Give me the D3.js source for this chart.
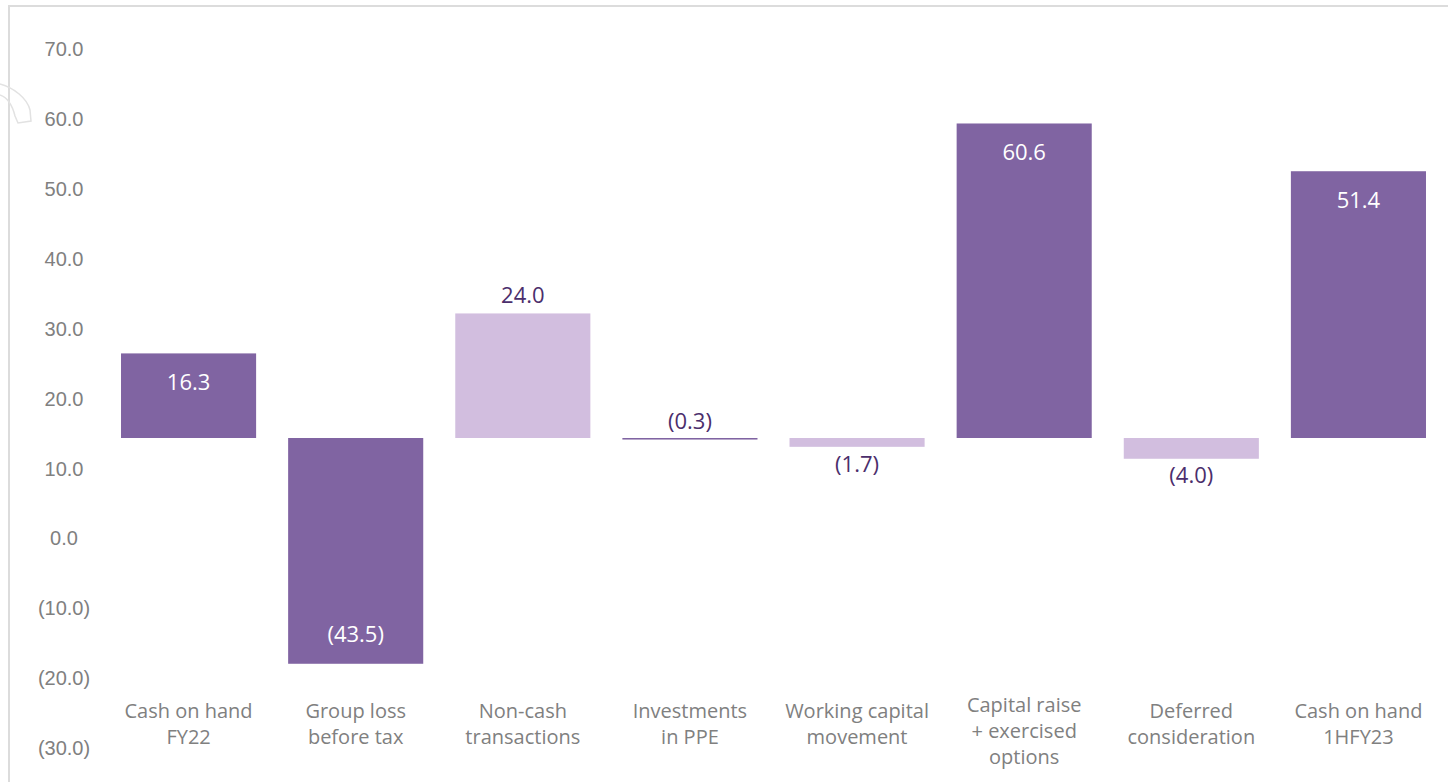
<!DOCTYPE html>
<meta charset="utf-8">
<style>
  body { margin: 0; background: #fff; }
  svg { display: block; font-family: "Open Sans", "Noto Sans", sans-serif; }
  .axis text { fill: #808080; font-size: 20px; }
  .cat { fill: #808080; font-size: 20px; }
</style>
<body>
<script src="https://cdn.jsdelivr.net/npm/d3@7"></script>
<script>
// data
var categories = ["Cash on hand FY22", "Group loss before tax", "Non-cash transactions",
                  "Investments in PPE", "Working capital movement",
                  "Capital raise + exercised options", "Deferred consideration", "Cash on hand 1HFY23"];
var catLines = [["Cash on hand", "FY22"], ["Group loss", "before tax"], ["Non-cash", "transactions"],
                ["Investments", "in PPE"], ["Working capital", "movement"],
                ["Capital raise", "+ exercised", "options"], ["Deferred", "consideration"], ["Cash on hand", "1HFY23"]];
var values = [16.3, -43.5, 24.0, -0.3, -1.7, 60.6, -4.0, 51.4];
var shades = ["dark", "dark", "light", "dark", "light", "dark", "light", "dark"];
var axisTicks = [70, 60, 50, 40, 30, 20, 10, 0, -10, -20, -30];

var width = 1448, height = 782;
var colors = { dark: "#8064A2", light: "#D2BEDF" };

var svg = d3.select("body").append("svg")
    .attr("width", width)
    .attr("height", height);

// frame + faint watermark hook at the left
svg.append("path")
    .attr("d", "M9,782V6H1448")
    .attr("fill", "none")
    .attr("stroke", "#dcdcdc")
    .attr("stroke-width", 2);
svg.append("path")
    .attr("d", "M0,84C14,88 27,98 30,110L31,121L18,123L15,116C12,104 6,97 0,95")
    .attr("fill", "none")
    .attr("stroke", "#e2e2e2")
    .attr("stroke-width", 1.5);

var x = d3.scaleBand()
    .domain(categories)
    .range([105, 1442])
    .paddingInner(32 / 167)
    .paddingOuter(16 / 167);

// bars are drawn on their own scale (baseline sits at ~14.5 on the printed axis)
var yBar = d3.scaleLinear().domain([-50, 70]).range([697.5, 74.7]);
// printed axis
var yAxis = d3.scaleLinear().domain([-30, 70]).range([748, 49.5]);

var fmt = function(v) { return v < 0 ? "(" + d3.format(".1f")(-v) + ")" : d3.format(".1f")(v); };

var axis = svg.append("g")
    .attr("class", "axis")
    .attr("transform", "translate(64,0)")
    .call(d3.axisLeft(yAxis).tickValues(axisTicks).tickSize(0).tickPadding(0).tickFormat(fmt));
axis.select(".domain").remove();
axis.selectAll("text").attr("text-anchor", "middle").attr("x", 0).attr("font-family", null).attr("font-size", null);

var data = categories.map(function(c, i) {
    return { cat: c, value: values[i], shade: shades[i], lines: catLines[i] };
});

svg.selectAll("rect.bar")
    .data(data)
    .enter().append("rect")
    .attr("class", "bar")
    .attr("x", function(d) { return x(d.cat); })
    .attr("width", x.bandwidth())
    .attr("y", function(d) { return yBar(Math.max(0, d.value)); })
    .attr("height", function(d) { return Math.abs(yBar(d.value) - yBar(0)); })
    .attr("fill", function(d) { return colors[d.shade]; });

// value labels: inside end on the big dark bars, outside end otherwise
function inside(d) { return d.shade === "dark" && Math.abs(d.value) >= 10; }

svg.selectAll("text.val")
    .data(data)
    .enter().append("text")
    .attr("class", "val")
    .attr("text-anchor", "middle")
    .attr("font-size", 22)
    .attr("dy", "0.35em")
    .attr("x", function(d) { return x(d.cat) + x.bandwidth() / 2; })
    .attr("y", function(d) {
        var end = yBar(d.value);
        if (inside(d)) return d.value > 0 ? end + 29 : end - 29;
        if (Math.abs(d.value) < 1) return yBar(0) - 17;
        return d.value > 0 ? end - 18 : end + 17;
    })
    .attr("fill", function(d) { return inside(d) ? "#ffffff" : "#4B2E6C"; })
    .text(function(d) { return fmt(d.value); });

// category labels
var cat = svg.selectAll("text.cat")
    .data(data)
    .enter().append("text")
    .attr("class", "cat")
    .attr("text-anchor", "middle")
    .attr("x", function(d) { return x(d.cat) + x.bandwidth() / 2; })
    .attr("y", function(d) { return 723 - 6 * d.lines.length; });

cat.selectAll("tspan")
    .data(function(d) { return d.lines.map(function(l) { return { l: l, cx: x(d.cat) + x.bandwidth() / 2 }; }); })
    .enter().append("tspan")
    .attr("x", function(d) { return d.cx; })
    .attr("dy", function(d, i) { return i === 0 ? "0.35em" : "26px"; })
    .text(function(d) { return d.l; });
</script>
</body>
